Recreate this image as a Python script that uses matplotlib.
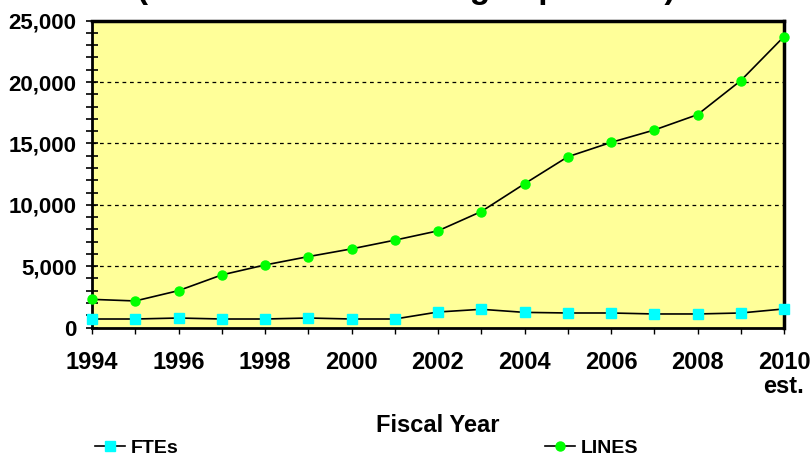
import matplotlib
matplotlib.use("Agg")
import matplotlib.pyplot as plt
from matplotlib.ticker import MultipleLocator, StrMethodFormatter

# values
years = [1994, 1995, 1996, 1997, 1998, 1999, 2000, 2001, 2002,
         2003, 2004, 2005, 2006, 2007, 2008, 2009, 2010]
lines = [2300, 2170, 3010, 4290, 5100, 5780, 6410, 7120, 7880,
         9450, 11710, 13910, 15080, 16090, 17340, 20110, 23700]
ftes = [700, 700, 780, 700, 700, 780, 700, 700, 1270,
        1490, 1240, 1190, 1190, 1110, 1110, 1190, 1520]
year_labels = ["1994", "", "1996", "", "1998", "", "2000", "", "2002",
               "", "2004", "", "2006", "", "2008", "", "2010\nest."]

# title is cut off at the top edge in the reference, only descenders show
title = "(Staff vs. Lines Managed per Unit)"

plt.rcParams["font.family"] = ["Liberation Sans", "DejaVu Sans"]
plt.rcParams["font.weight"] = "bold"

W, H = 812, 454
fig = plt.figure(figsize=(W / 100, H / 100), dpi=100)
ax = fig.add_axes([92 / W, 1 - 327.6 / H, (784 - 92) / W, (327.6 - 20.6) / H])
ax.set_facecolor("#FFFF99")

ftes_line, = ax.plot(years, ftes, color="black", lw=1.2, marker="s", ms=6.5,
                     mfc="#00FFFF", mec="#00FFFF", clip_on=False, zorder=3)
lines_line, = ax.plot(years, lines, color="black", lw=1.2, marker="o", ms=6.5,
                      mfc="#00FF00", mec="#00FF00", clip_on=False, zorder=3)

ax.set_xlim(1994, 2010)
ax.set_ylim(0, 25000)
ax.set_xticks(years)
ax.set_xticklabels(year_labels, fontsize=17, fontweight="bold", linespacing=1.1)
ax.yaxis.set_major_locator(MultipleLocator(5000))
ax.yaxis.set_minor_locator(MultipleLocator(1000))
ax.yaxis.set_major_formatter(StrMethodFormatter("{x:,.0f}"))
ax.tick_params(axis="y", which="both", direction="inout", length=8, width=1.2,
               labelsize=16, pad=7)
ax.tick_params(axis="x", direction="out", length=4.5, width=1.0, pad=12)

for y in [5000, 10000, 15000, 20000]:
    ax.axhline(y, color="black", lw=0.9, ls=(0, (3, 3)), zorder=1)

for side in ["left", "bottom"]:
    ax.spines[side].set_linewidth(2)
for side in ["top", "right"]:
    ax.spines[side].set_linewidth(2.5)

ax.set_xlabel("Fiscal Year", fontsize=17, fontweight="bold", va="center")
ax.xaxis.set_label_coords(0.5, (454 - 425 - 126.4) / 307)

fig.text(0.5, 1 + 1.5 / H, title, ha="center", va="baseline",
         fontsize=24, fontweight="bold")

leg_kw = dict(frameon=False, fontsize=14, handlelength=1.55, handletextpad=0.3,
              borderpad=0, borderaxespad=0, loc="center left")
fig.legend([ftes_line], ["FTEs"], bbox_to_anchor=(95 / W, 1 - 448 / H), **leg_kw)
fig.legend([lines_line], ["LINES"], bbox_to_anchor=(545 / W, 1 - 448 / H), **leg_kw)

fig.savefig("out.png", dpi=100)
